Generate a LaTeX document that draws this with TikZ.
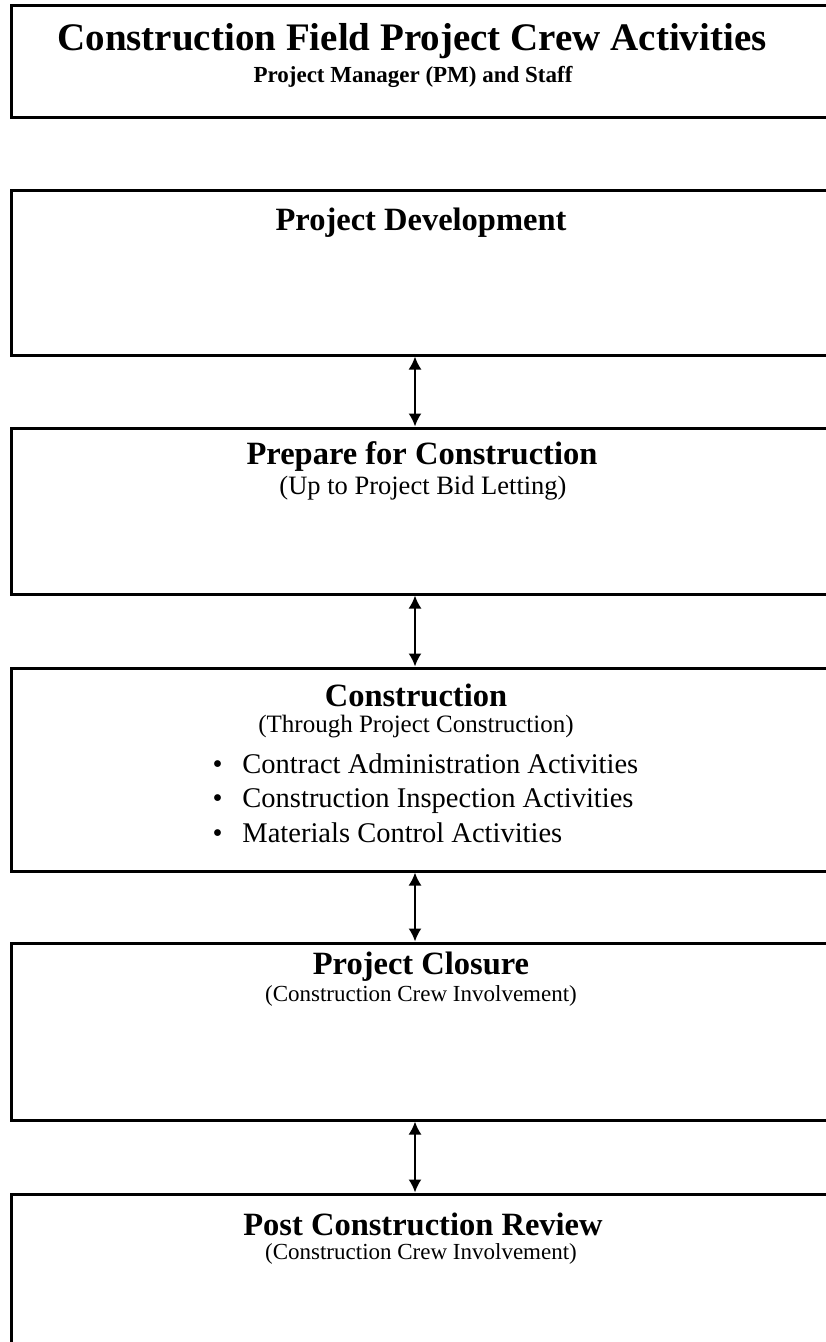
\documentclass[tikz,border=0pt]{standalone}
\usepackage{fontspec}
\setmainfont{Liberation Serif}
\usetikzlibrary{positioning,arrows.meta}

\begin{document}
\begin{tikzpicture}[x=1pt, y=-1pt,
	stagebox/.style={draw, line width=3pt, minimum width=820pt, inner sep=0pt},
	headtext/.style={inner sep=0pt, font=\bfseries\fontsize{32.5}{36}\selectfont},
	subtext/.style={inner sep=0pt, font=\fontsize{23}{26}\selectfont},
	link/.style={{Latex[length=13pt,width=13pt]}-{Latex[length=13pt,width=13pt]}, line width=2pt}]

	\useasboundingbox (0,0) rectangle (826,1342);
	\clip (0,0) rectangle (826,1342);

	% Title
	\node[stagebox, minimum height=112pt] (top) at (421,61) {};
	\node[inner sep=0pt, font=\bfseries\fontsize{39}{43}\selectfont] (toptitle) at (412,41) {Construction Field Project Crew Activities};
	\node[inner sep=0pt, font=\bfseries\fontsize{23}{27}\selectfont] (topsub) at (413,77) {Project Manager (PM) and Staff};

	% Project Development
	\node[stagebox, minimum height=165pt] (devel) at (421,272.5) {};
	\node[headtext] (develtitle) at (421,223) {Project Development};

	% Prepare for Construction
	\node[stagebox, minimum height=166pt] (prep) at (421,511) {};
	\node[headtext] (preptitle) at (422,457) {Prepare for Construction};
	\node[subtext, font=\fontsize{26.5}{30}\selectfont] (prepsub) at (423,488) {(Up to Project Bid Letting)};

	% Construction
	\node[stagebox, minimum height=203pt] (constr) at (421,769.5) {};
	\node[headtext] (constrtitle) at (416,695) {Construction};
	\node[subtext, font=\fontsize{25}{28}\selectfont] (constrsub) at (416,727) {(Through Project Construction)};
	\node[anchor=west, align=left, font=\fontsize{28.5}{34.5}\selectfont] (constrlist) at (209,798) {%
		\textbullet\hspace{20pt}Contract Administration Activities\\
		\textbullet\hspace{20pt}Construction Inspection Activities\\
		\textbullet\hspace{20pt}Materials Control Activities};

	% Project Closure
	\node[stagebox, minimum height=177pt] (close) at (421,1031.5) {};
	\node[headtext] (closetitle) at (421,967) {Project Closure};
	\node[subtext] (closesub) at (421,996) {(Construction Crew Involvement)};

	% Post Construction Review
	\node[stagebox, minimum height=220pt] (review) at (421,1304) {};
	\node[headtext] (reviewtitle) at (423,1224) {Post Construction Review};
	\node[subtext] (reviewsub) at (421,1254) {(Construction Crew Involvement)};

	% arrows between stages
	\draw[link] ([xshift=-6pt]devel.south) -- ([xshift=-6pt]prep.north);
	\draw[link] ([xshift=-6pt]prep.south) -- ([xshift=-6pt]constr.north);
	\draw[link] ([xshift=-6pt]constr.south) -- ([xshift=-6pt]close.north);
	\draw[link] ([xshift=-6pt]close.south) -- ([xshift=-6pt]review.north);

\end{tikzpicture}
\end{document}
